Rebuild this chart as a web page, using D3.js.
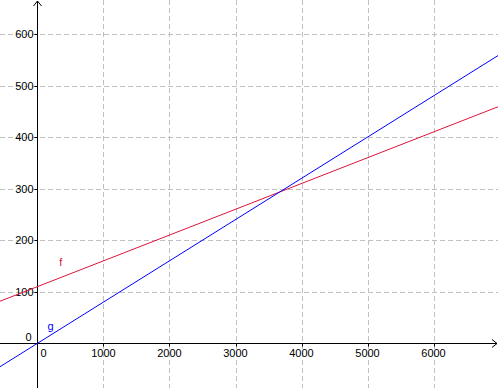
<!DOCTYPE html>
<html><head><meta charset="utf-8">
<script src="https://cdn.jsdelivr.net/npm/d3@7"></script>
<style>body{margin:0;background:#fff}svg{display:block}text{font-family:"Liberation Sans",Arial,sans-serif;font-size:11px}</style>
</head><body><svg id="c" width="498" height="388"></svg>
<script>
const xTicks = [1000, 2000, 3000, 4000, 5000, 6000];
const yTicks = [100, 200, 300, 400, 500, 600];
const xTickLabels = ["1000", "2000", "3000", "4000", "5000", "6000"];
const yTickLabels = ["100", "200", "300", "400", "500", "600"];
const lineNames = ["f", "g"];
const lineSlopes = [0.05, 0.08];
const lineIntercepts = [110, 0];
const lineLabelAt = [[330, 150], [150, 25]];
const lineColors = ["#dc143c", "#0000ff"];

const W = 498, H = 388;
const x = d3.scaleLinear().domain([-568, 6977]).range([0, W]);
const y = d3.scaleLinear().domain([-86.7, 666]).range([H, 0]);
const svg = d3.select("#c");
const x0 = x(0), y0 = y(0);

// grid
svg.append("g").selectAll("line").data(xTicks).join("line")
  .attr("x1", d => Math.round(x(d)) + 0.5).attr("x2", d => Math.round(x(d)) + 0.5)
  .attr("y1", 0).attr("y2", H)
  .attr("stroke", "#c0c0c0").attr("stroke-dasharray", "5,3");
svg.append("g").selectAll("line").data(yTicks).join("line")
  .attr("y1", d => Math.round(y(d)) + 0.5).attr("y2", d => Math.round(y(d)) + 0.5)
  .attr("x1", 0).attr("x2", W)
  .attr("stroke", "#c0c0c0").attr("stroke-dasharray", "5,3");

// axes
const ax = Math.round(x0) + 0.5, ay = Math.round(y0) + 0.5;
svg.append("line").attr("x1", 0).attr("x2", W - 1).attr("y1", ay).attr("y2", ay).attr("stroke", "#000");
svg.append("line").attr("x1", ax).attr("x2", ax).attr("y1", 1).attr("y2", H).attr("stroke", "#000");
svg.append("path").attr("d", `M${W-6},${ay-4}L${W-1},${ay}L${W-6},${ay+4}`).attr("fill", "none").attr("stroke", "#000");
svg.append("path").attr("d", `M${ax-4},6L${ax},1L${ax+4},6`).attr("fill", "none").attr("stroke", "#000");

// ticks
svg.append("g").selectAll("line").data(xTicks).join("line")
  .attr("x1", d => Math.round(x(d)) + 0.5).attr("x2", d => Math.round(x(d)) + 0.5)
  .attr("y1", ay).attr("y2", ay + 3).attr("stroke", "#000");
svg.append("g").selectAll("line").data(yTicks).join("line")
  .attr("y1", d => Math.round(y(d)) + 0.5).attr("y2", d => Math.round(y(d)) + 0.5)
  .attr("x1", ax - 3).attr("x2", ax).attr("stroke", "#000");

// tick labels
svg.append("g").selectAll("text").data(xTicks).join("text")
  .attr("x", d => x(d)).attr("y", ay + 13).attr("text-anchor", "middle").text((d, i) => xTickLabels[i]);
svg.append("g").selectAll("text").data(yTicks).join("text")
  .attr("x", ax - 4).attr("y", d => y(d) + 4).attr("text-anchor", "end").text((d, i) => yTickLabels[i]);
svg.append("text").attr("x", ax + 3).attr("y", ay + 13).text("0");
svg.append("text").attr("x", ax - 12).attr("y", ay - 3).text("0");

// lines
lineNames.forEach((n, i) => {
  const f = v => lineSlopes[i] * v + lineIntercepts[i];
  const [d0, d1] = x.domain();
  svg.append("line").attr("x1", x(d0)).attr("y1", y(f(d0))).attr("x2", x(d1)).attr("y2", y(f(d1)))
    .attr("stroke", lineColors[i]).attr("stroke-width", 1);
  svg.append("text").attr("x", x(lineLabelAt[i][0])).attr("y", y(lineLabelAt[i][1]))
    .attr("fill", lineColors[i]).attr("font-size", 12).text(n);
});
</script></body></html>
